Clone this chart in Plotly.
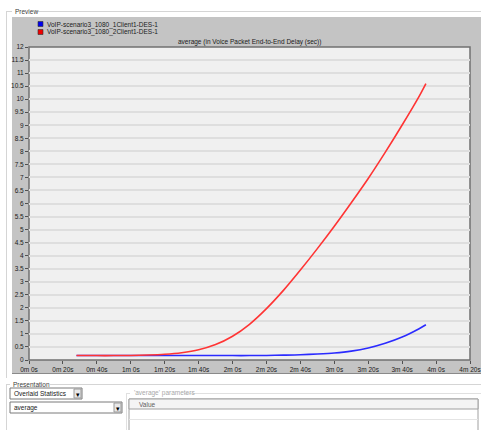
import plotly.graph_objects as go

# ---------------- data ----------------
series_names = ["VoIP-scenario3_1080_1Client1-DES-1", "VoIP-scenario3_1080_2Client1-DES-1"]
series_colors = ["#2b2bff", "#ff3434"]
legend_colors = ["#0000ee", "#ee0000"]

time_s = [28, 40, 50, 60, 70, 80, 90, 100, 110, 120, 130, 140, 150, 160, 170, 180, 190, 200, 210, 220, 230, 234]
blue_vals = [0.17, 0.17, 0.17, 0.17, 0.17, 0.17, 0.17, 0.17, 0.17, 0.17, 0.17, 0.175, 0.185, 0.2, 0.23,
             0.27, 0.34, 0.46, 0.64, 0.88, 1.2, 1.35]
red_vals = [0.17, 0.17, 0.17, 0.175, 0.19, 0.22, 0.28, 0.39, 0.59, 0.91, 1.37, 1.97, 2.67, 3.45, 4.27,
            5.13, 6.03, 6.96, 7.96, 9.01, 10.11, 10.6]

x_tickvals = [0, 20, 40, 60, 80, 100, 120, 140, 160, 180, 200, 220, 240, 260]
x_ticktext = ["0m 0s", "0m 20s", "0m 40s", "1m 0s", "1m 20s", "1m 40s", "2m 0s",
              "2m 20s", "2m 40s", "3m 0s", "3m 20s", "3m 40s", "4m 0s", "4m 20s"]
y_tickvals = [i * 0.5 for i in range(25)]
y_ticktext = ["0", "0.5", "1", "1.5", "2", "2.5", "3", "3.5", "4", "4.5", "5", "5.5", "6",
              "6.5", "7", "7.5", "8", "8.5", "9", "9.5", "10", "10.5", "11", "11.5", "12"]

chart_title = "average (in Voice Packet End-to-End Delay (sec))"

# ---------------- layout geometry ----------------
W, H = 481, 430
ML, MR, MT, MB = 29, 11, 47, 70
PW, PH = W - ML - MR, H - MT - MB


def px(x):
    return (x - ML) / PW


def py(y):
    return 1 - (y - MT) / PH


FONT = "Liberation Sans"

fig = go.Figure()
fig.add_trace(go.Scatter(x=time_s, y=blue_vals, mode="lines", name=series_names[0],
                         line=dict(color=series_colors[0], width=1.6, shape="spline", smoothing=0.8),
                         showlegend=False))
fig.add_trace(go.Scatter(x=time_s, y=red_vals, mode="lines", name=series_names[1],
                         line=dict(color=series_colors[1], width=1.6, shape="spline", smoothing=0.8),
                         showlegend=False))

shapes = []


def rect(x0, y0, x1, y1, fill=None, line=None, lw=1, layer="below"):
    shapes.append(dict(type="rect", xref="paper", yref="paper",
                       x0=px(x0), x1=px(x1), y0=py(y0), y1=py(y1),
                       fillcolor=fill if fill else "rgba(0,0,0,0)",
                       line=dict(color=line if line else "rgba(0,0,0,0)", width=lw if line else 0),
                       layer=layer))


def hline(x0, x1, y, color, lw=1):
    shapes.append(dict(type="line", xref="paper", yref="paper",
                       x0=px(x0), x1=px(x1), y0=py(y), y1=py(y),
                       line=dict(color=color, width=lw), layer="below"))


def vline(x, y0, y1, color, lw=1):
    shapes.append(dict(type="line", xref="paper", yref="paper",
                       x0=px(x), x1=px(x), y0=py(y0), y1=py(y1),
                       line=dict(color=color, width=lw), layer="below"))


# Preview group frame
hline(6, 12, 11.5, "#d5d5d5")
hline(36, 481, 11.5, "#d5d5d5")
vline(6.5, 11.5, 378, "#d5d5d5")
# gray panel
rect(12, 17, 481, 374, fill="#c4c4c4")
hline(12, 481, 373.5, "#8a8a8a")
# plot area frame
rect(29, 47, 470, 360, fill="#f0f0f0", line="#707070", lw=1.5)

# Presentation group frame
hline(6, 10, 384.5, "#d5d5d5")
hline(50, 481, 384.5, "#d5d5d5")
vline(6.5, 384.5, 430, "#d5d5d5")
# dropdown 1
rect(10, 388, 82, 399, fill="#ffffff", line="#7a7a7a")
rect(74, 389, 81, 398, fill="#e8e8e8", line="#9a9a9a")
# dropdown 2
rect(10, 402, 122, 413, fill="#ffffff", line="#7a7a7a")
rect(114, 403, 121, 412, fill="#e8e8e8", line="#9a9a9a")
# parameters group frame
hline(126, 130, 393.5, "#e0e0e0")
hline(184, 481, 393.5, "#e0e0e0")
vline(126.5, 393.5, 430, "#e0e0e0")
# value table
rect(129, 399, 478, 432, fill="#ffffff", line="#a0a0a0")
rect(129, 399, 478, 409, fill="#f4f4f4", line="#a0a0a0")
hline(129, 478, 419.5, "#e4e4e4")

annotations = []


def text(x, y, s, size=7, color="#202020", xanchor="left", yanchor="middle"):
    annotations.append(dict(xref="paper", yref="paper", x=px(x), y=py(y), text=s,
                            showarrow=False, xanchor=xanchor, yanchor=yanchor,
                            font=dict(family=FONT, size=size, color=color)))


text(13, 11.5, "Preview", size=6.5, color="#404040")
# legend
for i, (nm, col) in enumerate(zip(series_names, legend_colors)):
    yy = 24.5 + i * 8
    rect(38, yy - 3, 43, yy + 2, fill=col, line="#303030", lw=0.6)
    text(45, yy, nm, size=6.5)
text(250, 42, chart_title, size=6.5, xanchor="center")

text(11, 384.5, "Presentation", size=6.5, color="#404040")
text(12, 393.5, "Overlaid Statistics", size=6.5)
text(77.5, 394, "▾", size=7, color="#000000", xanchor="center")
text(12, 407.5, "average", size=6.5)
text(117.5, 408, "▾", size=7, color="#000000", xanchor="center")
text(132, 393.5, "'average' parameters", size=6.5, color="#a8a8a8")
text(137, 404, "Value", size=6.5, color="#606060")

fig.update_layout(
    width=W, height=H,
    margin=dict(l=ML, r=MR, t=MT, b=MB),
    paper_bgcolor="#ffffff",
    plot_bgcolor="#f0f0f0",
    shapes=shapes,
    annotations=annotations,
    xaxis=dict(range=[0, 260], tickvals=x_tickvals, ticktext=x_ticktext, automargin=False,
               ticklabeloverflow="allow",
               showgrid=False, zeroline=False, ticks="outside", ticklen=3,
               tickcolor="#505050", tickfont=dict(family=FONT, size=6.5, color="#202020"),
               showline=False, fixedrange=True),
    yaxis=dict(range=[0, 12], tickvals=y_tickvals, ticktext=y_ticktext, automargin=False,
               ticklabeloverflow="allow",
               showgrid=True, gridcolor="#dedede", gridwidth=1.5, zeroline=False,
               ticks="outside", ticklen=3, tickcolor="#505050",
               tickfont=dict(family=FONT, size=6.5, color="#202020"),
               showline=False, fixedrange=True),
    showlegend=False,
)

fig.write_html("out.html", config={"displayModeBar": False},
               post_script="document.body.style.margin='0';document.body.style.overflow='hidden';")
